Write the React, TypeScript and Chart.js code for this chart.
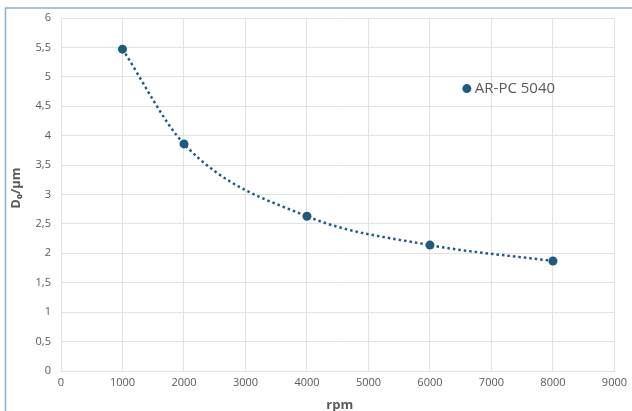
import React, { useEffect, useRef } from "react";
import { Chart, registerables } from "chart.js";

Chart.register(...registerables);

const seriesName = "AR-PC 5040";
const rpmValues = [1000, 2000, 4000, 6000, 8000];
const d0Values = [5.47, 3.86, 2.63, 2.14, 1.87];
const xTitle = "rpm";
const yTitle = "D₀/µm";

const markColor = "#1d5c7e";
const textColor = "#595959";
const gridColor = "#e2e2e2";

const decorPlugin = {
  id: "decor",
  afterDraw(chart: any) {
    const ctx = chart.ctx;
    const area = chart.chartArea;
    ctx.save();
    // outer frame
    ctx.strokeStyle = "#8db0c9";
    ctx.lineWidth = 1.5;
    ctx.beginPath();
    ctx.moveTo(5.5, 420);
    ctx.lineTo(5.5, 8);
    ctx.lineTo(640, 8);
    ctx.stroke();
    // axis titles
    ctx.fillStyle = textColor;
    ctx.font = "bold 13px 'Open Sans', Roboto, sans-serif";
    ctx.textAlign = "center";
    ctx.textBaseline = "middle";
    ctx.fillText(xTitle, (area.left + area.right) / 2 + 2, 405);
    ctx.translate(16, 188);
    ctx.rotate(-Math.PI / 2);
    ctx.fillText(yTitle, 0, 0);
    ctx.restore();
    // legend inside plot
    ctx.save();
    const lx = chart.scales.x.getPixelForValue(6600);
    const ly = chart.scales.y.getPixelForValue(4.8);
    ctx.fillStyle = markColor;
    ctx.beginPath();
    ctx.arc(lx, ly, 4.5, 0, Math.PI * 2);
    ctx.fill();
    ctx.fillStyle = textColor;
    ctx.font = "15px 'Open Sans', Roboto, sans-serif";
    ctx.textAlign = "left";
    ctx.textBaseline = "middle";
    ctx.fillText(seriesName, lx + 8, ly);
    ctx.restore();
  },
};

export default function App() {
  const ref = useRef<HTMLCanvasElement>(null);
  useEffect(() => {
    document.body.style.margin = "0";
    const chart = new Chart(ref.current!, {
      type: "scatter",
      data: {
        datasets: [
          {
            label: seriesName,
            data: rpmValues.map((x, i) => ({ x, y: d0Values[i] })),
            showLine: true,
            cubicInterpolationMode: "monotone",
            borderColor: markColor,
            borderWidth: 2.5,
            borderDash: [2.5, 3],
            backgroundColor: markColor,
            pointBackgroundColor: markColor,
            pointBorderColor: markColor,
            pointRadius: 4.5,
            pointBorderWidth: 0,
          } as any,
        ],
      },
      options: {
        animation: false,
        responsive: false,
        maintainAspectRatio: false,
        layout: { padding: { left: 0, top: 18, right: 17, bottom: 0 } },
        plugins: {
          legend: { display: false },
          tooltip: { enabled: false },
        },
        scales: {
          x: {
            type: "linear",
            min: 0,
            max: 9000,
            ticks: {
              stepSize: 1000,
              color: textColor,
              font: { size: 11, family: "'Open Sans', Roboto, sans-serif" },
              padding: 5,
              maxRotation: 0,
              callback: (v: any) => String(v),
            },
            grid: { color: gridColor, drawTicks: false },
            border: { color: gridColor },
            afterFit: (s: any) => {
              s.height = 40;
            },
          },
          y: {
            type: "linear",
            min: 0,
            max: 6,
            ticks: {
              stepSize: 0.5,
              color: textColor,
              font: { size: 11, family: "'Open Sans', Roboto, sans-serif" },
              padding: 10,
              callback: (v: any) => String(v).replace(".", ","),
            },
            grid: { color: gridColor, drawTicks: false },
            border: { color: gridColor },
            afterFit: (s: any) => {
              s.width = 61;
            },
          },
        },
      },
      plugins: [decorPlugin],
    });
    return () => chart.destroy();
  }, []);
  return <canvas ref={ref} width={632} height={411} style={{ display: "block" }} />;
}
